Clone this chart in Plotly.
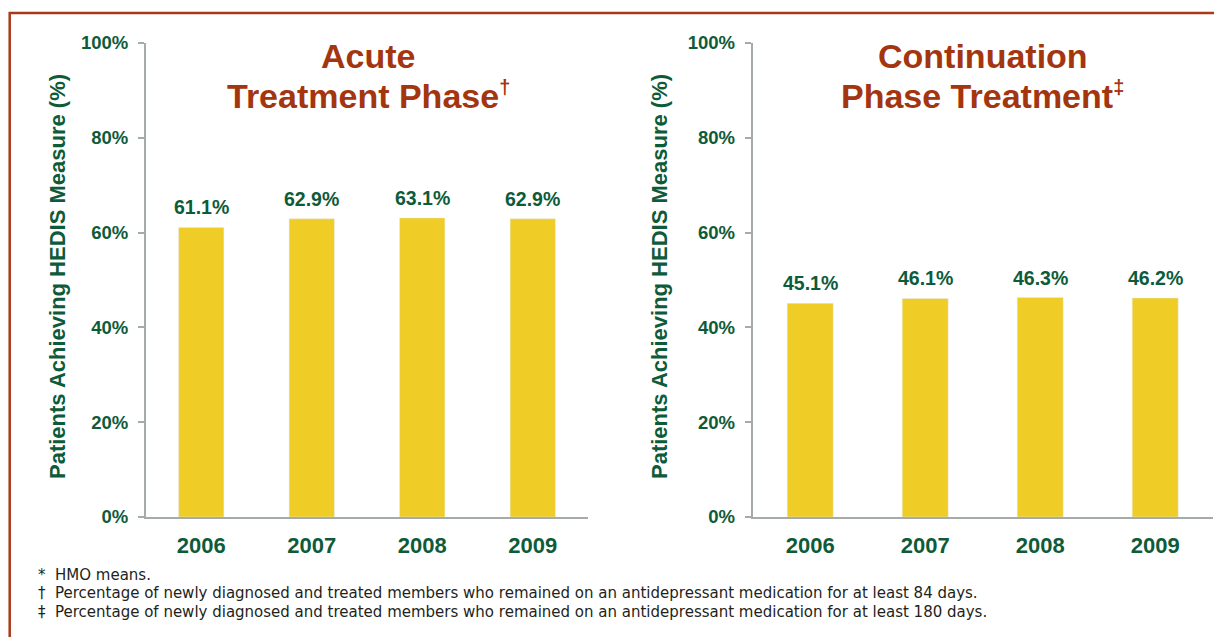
import plotly.graph_objects as go

# ---- data ----
years = ["2006", "2007", "2008", "2009"]
acute_values = [61.1, 62.9, 63.1, 62.9]
continuation_values = [45.1, 46.1, 46.3, 46.2]
y_tick_values = [0, 20, 40, 60, 80, 100]
y_tick_labels = ["0%", "20%", "40%", "60%", "80%", "100%"]
left_title = ["Acute", "Treatment Phase<sup><span style='font-size:20px'>†</span></sup>"]
right_title = ["Continuation", "Phase Treatment<sup><span style='font-size:20px'>‡</span></sup>"]
y_axis_title = "Patients Achieving HEDIS Measure (%)"
footnote_symbols = ["*", "†", "‡"]
footnote_texts = [
    "HMO means.",
    "Percentage of newly diagnosed and treated members who remained on an antidepressant medication for at least 84 days.",
    "Percentage of newly diagnosed and treated members who remained on an antidepressant medication for at least 180 days.",
]

OFF = 8                      # page body margin offset
W, H = 1222 - OFF, 637 - OFF
ML, MR, MT, MB = 0, 0, 0, 0
GREEN = "#0E5B3A"
BROWN = "#A3350F"
YELLOW = "#F0CC26"
AXIS_GRAY = "#A4ABA8"
FONT = "Liberation Sans"


def px_x(p):
    return (p - OFF - ML) / (W - ML - MR)


def px_y(p):
    return ((H - MB) - (p - OFF)) / (H - MB - MT)


fig = go.Figure()
fig.add_trace(go.Bar(x=years, y=acute_values, marker_color=YELLOW, width=0.41,
                     xaxis="x", yaxis="y", showlegend=False, hoverinfo="skip"))
fig.add_trace(go.Bar(x=years, y=continuation_values, marker_color=YELLOW, width=0.4,
                     xaxis="x2", yaxis="y2", showlegend=False, hoverinfo="skip"))

ydom = [px_y(517), px_y(43)]
xaxis_common = dict(
    type="category", range=[-0.5, 3.5], showline=True, linecolor=AXIS_GRAY, linewidth=2,
    ticks="", showgrid=False, zeroline=False, fixedrange=True, automargin=False,
    tickfont=dict(family=FONT, size=22, color=GREEN, weight="bold"),
    ticklabelstandoff=8,
)
yaxis_common = dict(
    range=[0, 100], tickvals=y_tick_values, ticktext=y_tick_labels,
    showline=True, linecolor=AXIS_GRAY, linewidth=2, ticks="outside", ticklen=6,
    tickcolor=AXIS_GRAY, tickwidth=1.5, showgrid=False, zeroline=False, fixedrange=True,
    automargin=False,
    tickfont=dict(family=FONT, size=18.5, color=GREEN, weight="bold"),
    ticklabelstandoff=6,
)

fig.update_layout(
    width=W, height=H, margin=dict(l=ML, r=MR, t=MT, b=MB, autoexpand=False),
    paper_bgcolor="white", plot_bgcolor="white",
    xaxis=dict(domain=[px_x(146), px_x(588)], anchor="y", **xaxis_common),
    yaxis=dict(domain=ydom, anchor="x", **yaxis_common),
    xaxis2=dict(domain=[px_x(752.7), px_x(1212.7)], anchor="y2", **xaxis_common),
    yaxis2=dict(domain=ydom, anchor="x2", **yaxis_common),
)

annotations = []
# value labels (x given as category index)
for xa, ya, vals in (("x", "y", acute_values), ("x2", "y2", continuation_values)):
    for i, v in enumerate(vals):
        annotations.append(dict(
            x=i, y=v, xref=xa, yref=ya, text=f"{v:.1f}%", showarrow=False,
            yanchor="middle", yshift=20,
            font=dict(family=FONT, size=19.5, color=GREEN, weight="bold"),
        ))

# panel titles
for cx, lines in ((368, left_title), (982.7, right_title)):
    for line, cy in zip(lines, (56, 96)):
        annotations.append(dict(
            x=px_x(cx), y=px_y(cy), xref="paper", yref="paper", text=line,
            showarrow=False, xanchor="center", yanchor="middle",
            font=dict(family=FONT, size=34, color=BROWN, weight="bold"),
        ))

# y axis titles
for cx in (57, 659):
    annotations.append(dict(
        x=px_x(cx), y=px_y(277), xref="paper", yref="paper", text=y_axis_title,
        showarrow=False, textangle=-90, xanchor="center", yanchor="middle",
        font=dict(family=FONT, size=22, color=GREEN, weight="bold"),
    ))

# footnotes
for sym, txt, cy in zip(footnote_symbols, footnote_texts, (575, 593, 612)):
    annotations.append(dict(
        x=px_x(36), y=px_y(cy), xref="paper", yref="paper", text=sym,
        showarrow=False, xanchor="left", yanchor="middle",
        font=dict(family="DejaVu Sans", size=15, color="#231F20"),
    ))
    annotations.append(dict(
        x=px_x(53), y=px_y(cy), xref="paper", yref="paper", text=txt,
        showarrow=False, xanchor="left", yanchor="middle",
        font=dict(family="DejaVu Sans", size=15, color="#231F20"),
    ))

fig.update_layout(annotations=annotations)

# frame border
fig.add_shape(type="path", xref="paper", yref="paper",
              path=f"M {px_x(9.7)},{px_y(645)} L {px_x(9.7)},{px_y(13)} L {px_x(1235)},{px_y(13)}",
              line=dict(color="#A8391A", width=2.5))

fig.write_html("out.html")
